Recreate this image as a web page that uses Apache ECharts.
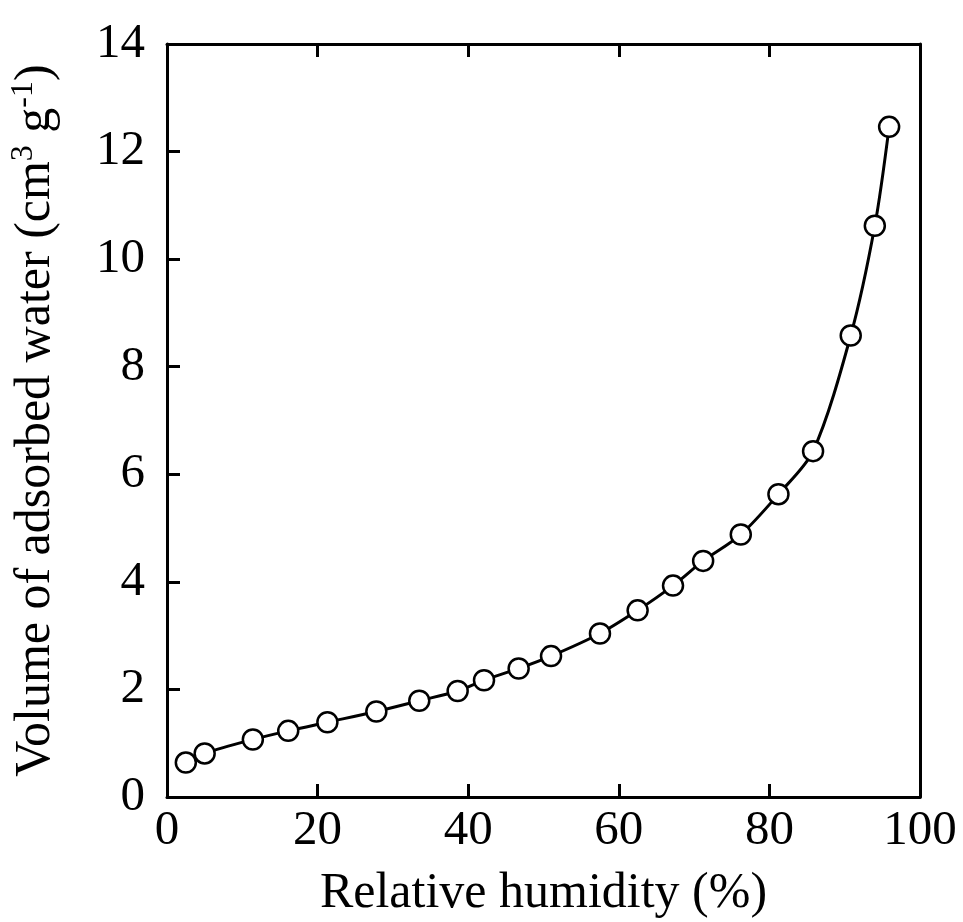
<!DOCTYPE html>
<html>
<head>
<meta charset="utf-8">
<script src="https://cdn.jsdelivr.net/npm/echarts@6/dist/echarts.min.js"></script>
<style>html,body{margin:0;padding:0;background:#fff}#c{width:963px;height:922px}</style>
</head>
<body>
<div id="c"></div>
<script>
var humidity = [2.5, 5.0, 11.4, 16.1, 21.3, 27.8, 33.5, 38.6, 42.1, 46.7, 51.0, 57.5, 62.5, 67.2, 71.2, 76.2, 81.2, 85.8, 90.8, 94.0, 95.9];
var adsorbed = [0.64, 0.81, 1.07, 1.23, 1.39, 1.59, 1.79, 1.97, 2.17, 2.39, 2.62, 3.04, 3.47, 3.93, 4.39, 4.88, 5.63, 6.43, 8.58, 10.62, 12.46];
var xTicks = [0, 20, 40, 60, 80, 100];
var yTicks = [0, 2, 4, 6, 8, 10, 12, 14];

var FONT = '"Liberation Serif", "Times New Roman", serif';
var chart = echarts.init(document.getElementById('c'));
var pts = humidity.map(function (h, i) { return [h, adsorbed[i]]; });
var lineStyle = { color: '#000', width: 3 };
chart.setOption({
  animation: false,
  backgroundColor: '#fff',
  grid: { left: 167, top: 44, right: 43, bottom: 125, containLabel: false, outerBoundsMode: 'none' },
  xAxis: [{
    type: 'value', min: xTicks[0], max: xTicks[xTicks.length - 1], interval: xTicks[1] - xTicks[0],
    name: 'Relative humidity (%)', nameLocation: 'middle', nameGap: 72,
    nameTextStyle: { fontFamily: FONT, fontSize: 50, color: '#000' },
    axisLine: { show: true, onZero: false, lineStyle: lineStyle },
    axisTick: { show: true, inside: true, length: 13, lineStyle: lineStyle },
    axisLabel: { fontFamily: FONT, fontSize: 49, color: '#000', margin: 10 },
    splitLine: { show: false }
  }, {
    type: 'value', min: xTicks[0], max: xTicks[xTicks.length - 1], interval: xTicks[1] - xTicks[0], position: 'top',
    axisLine: { show: true, onZero: false, lineStyle: lineStyle },
    axisTick: { show: true, inside: true, length: 13, lineStyle: lineStyle },
    axisLabel: { show: false },
    splitLine: { show: false }
  }],
  yAxis: [{
    type: 'value', min: yTicks[0], max: yTicks[yTicks.length - 1], interval: yTicks[1] - yTicks[0],
    name: 'Volume of adsorbed water (cm{sup|3} g{sup|-1})',
    nameLocation: 'middle', nameGap: 103, nameRotate: 90,
    nameTextStyle: {
      fontFamily: FONT, fontSize: 50, color: '#000', lineHeight: 56,
      rich: { sup: { fontFamily: FONT, fontSize: 32, color: '#000', verticalAlign: 'top', lineHeight: 52 } }
    },
    axisLine: { show: true, onZero: false, lineStyle: lineStyle },
    axisTick: { show: true, inside: true, length: 13, lineStyle: lineStyle },
    axisLabel: { fontFamily: FONT, fontSize: 49, color: '#000', margin: 22 },
    splitLine: { show: false }
  }, {
    type: 'value', min: yTicks[0], max: yTicks[yTicks.length - 1], interval: yTicks[1] - yTicks[0], position: 'right',
    axisLine: { show: true, onZero: false, lineStyle: lineStyle },
    axisTick: { show: false },
    axisLabel: { show: false },
    splitLine: { show: false }
  }],
  series: [{
    type: 'line',
    data: pts,
    smooth: 0.3,
    symbol: 'circle',
    symbolSize: 20,
    lineStyle: { color: '#000', width: 3 },
    itemStyle: { color: '#fff', borderColor: '#000', borderWidth: 2.5 },
    z: 5
  }]
});
</script>
</body>
</html>
